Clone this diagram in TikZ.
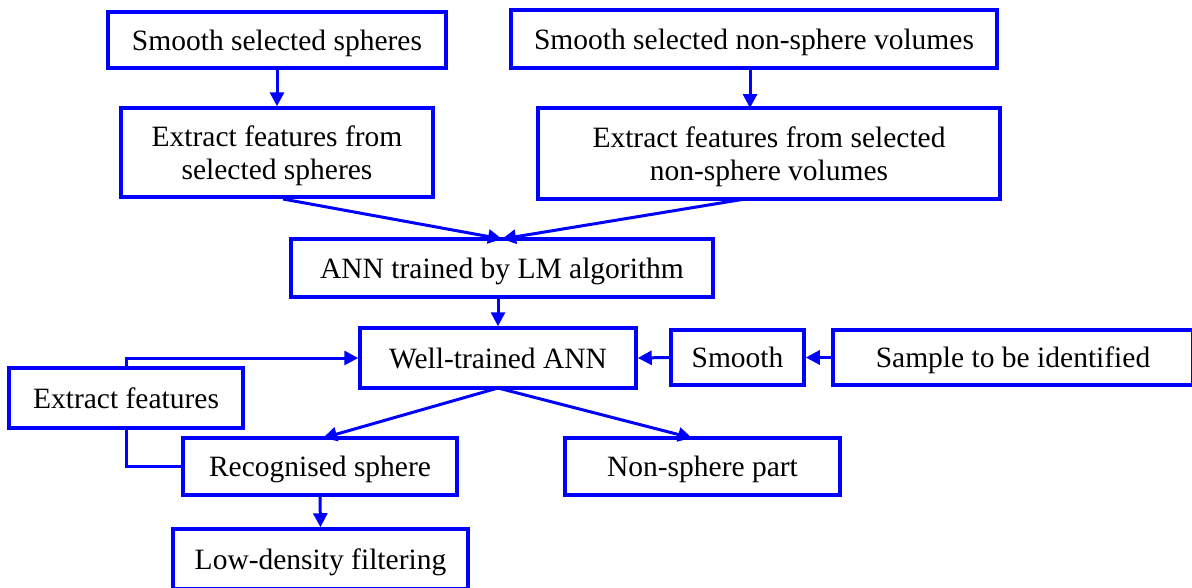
\documentclass[tikz,border=0pt]{standalone}
\usepackage{fontspec}
\setmainfont{Liberation Serif}
\usetikzlibrary{arrows.meta}
\definecolor{boxblue}{RGB}{0,0,255}
\begin{document}
\begin{tikzpicture}[x=1pt,y=-1pt,
  box/.style={draw=boxblue,line width=3.5pt,inner sep=0pt,align=center,text depth=0pt,font=\fontsize{29.5}{33}\selectfont},
  conn/.style={draw=boxblue,line width=3pt},
  arr/.style={conn,-{Triangle[length=14pt,width=14pt]}}]
\useasboundingbox (0,0) rectangle (1192,587);
\node[box,minimum width=338pt,minimum height=56pt] (s1) at (277,40) {Smooth selected spheres};
\node[box,minimum width=486pt,minimum height=58pt] (s2) at (754,39) {Smooth selected non-sphere volumes};
\node[box,minimum width=312pt,minimum height=89pt] (e1) at (277,152.5) {Extract features from\\selected spheres};
\node[box,minimum width=462pt,minimum height=91pt] (e2) at (769,153.5) {Extract features from selected\\non-sphere volumes};
\node[box,minimum width=422pt,minimum height=58pt] (ann) at (502,268) {ANN trained by LM algorithm};
\node[box,minimum width=276pt,minimum height=60pt] (well) at (498,358) {Well-trained ANN};
\node[box,minimum width=133pt,minimum height=55pt] (sm) at (737.5,357.5) {Smooth};
\node[box,minimum width=360pt,minimum height=55pt] (samp) at (1013,357.5) {Sample to be identified};
\node[box,minimum width=234pt,minimum height=60pt] (ef) at (126,398) {Extract features};
\node[box,minimum width=274pt,minimum height=57pt] (rec) at (320,466.5) {Recognised sphere};
\node[box,minimum width=275pt,minimum height=57pt] (non) at (702.5,466.5) {Non-sphere part};
\node[box,minimum width=295pt,minimum height=60pt] (low) at (320.5,559) {Low-density filtering};
\coordinate (e1b) at (283,199);
\coordinate (e2b) at (745,199);
\coordinate (annt) at (502,239);
\coordinate (wellb) at (498,388);
\draw[arr] (s1.south) -- (s1.south |- e1.north);
\draw[arr] (750,68) -- (750,108);
\draw[arr] (e1b) -- (annt);
\draw[arr] (e2b) -- (annt);
\draw[arr] (ann.south -| well.south) -- (well.north);
\draw[arr] (samp.west) -- (sm.east);
\draw[arr] (sm.west) -- (well.east);
\draw[arr] (wellb) -- (323,438);
\draw[arr] (wellb) -- (692,438);
\draw[arr] (rec.south) -- (low.north);
\draw[conn] (rec.west) -| (ef.south);
\draw[arr] (ef.north) |- (well.west);
\end{tikzpicture}
\end{document}
